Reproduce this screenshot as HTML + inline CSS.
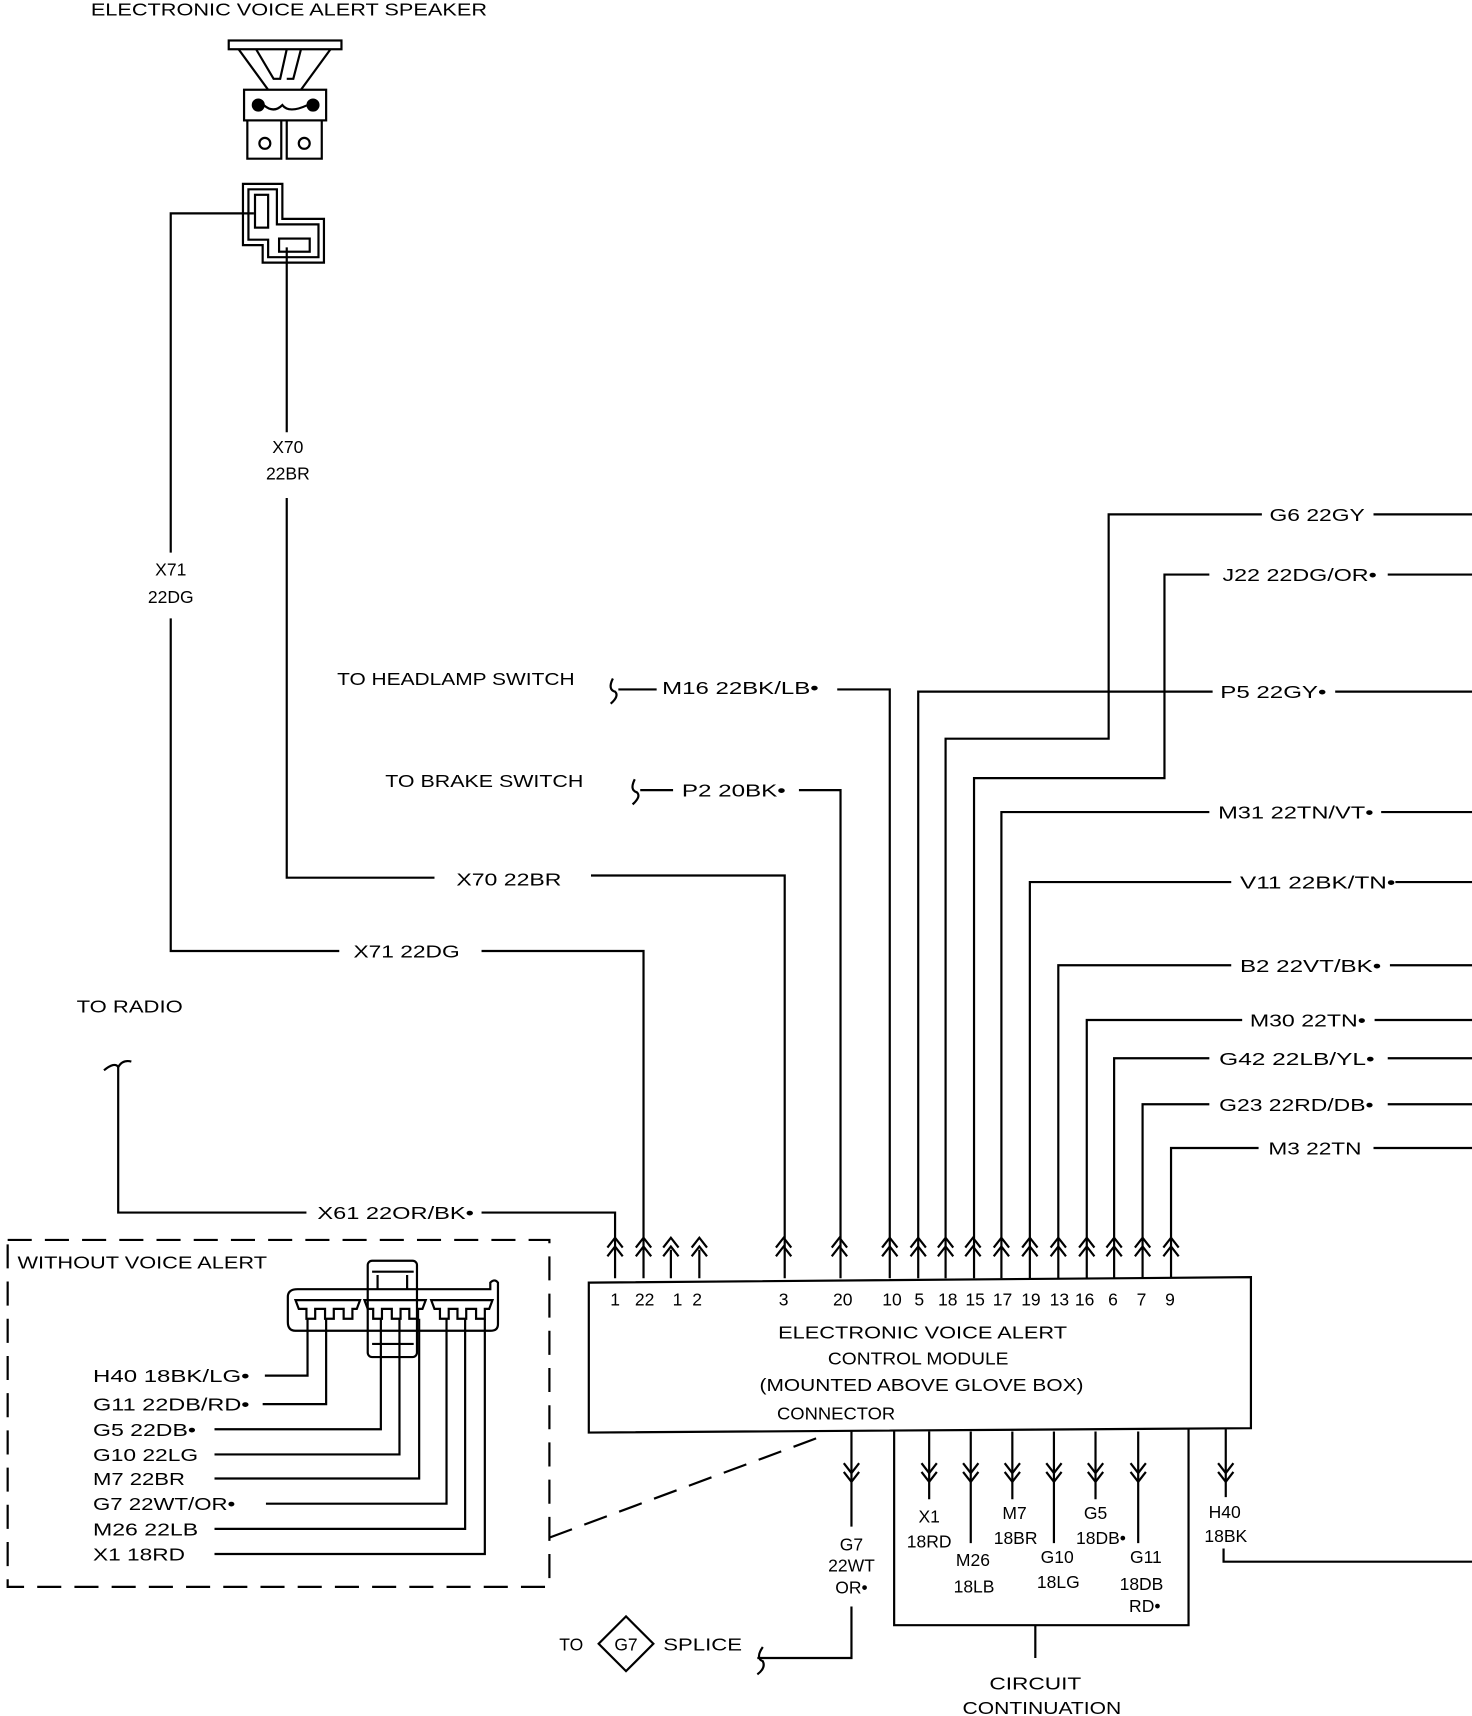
<!DOCTYPE html>
<html><head><meta charset="utf-8"><style>
html,body{margin:0;padding:0;background:#fff}
svg{display:block}
text{font-family:"Liberation Sans",sans-serif;font-size:16px;fill:#000}
</style></head><body>
<svg width="1472" height="1716" viewBox="0 0 1345 1568" preserveAspectRatio="none" xmlns="http://www.w3.org/2000/svg">
<defs>
<g id="up" fill="none" stroke="#000" stroke-width="2"><polyline points="-7,10 0,1 7,10"/><polyline points="-7,18 0,9 7,18"/></g>
<g id="dn" fill="none" stroke="#000" stroke-width="2"><polyline points="-7,-10 0,-1 7,-10"/><polyline points="-7,-18 0,-9 7,-18"/></g>
</defs>
<g fill="none" stroke="#000" stroke-width="2">
<!-- speaker -->
<rect x="209" y="37" width="103" height="8"/>
<path d="M218 45 L245 82 M302 45 L275 82 M234 45 L250 72 L256 72 L262 45 M275 45 L268 72 L262 72"/>
<rect x="223" y="82" width="75" height="28"/>
<circle cx="236" cy="96" r="5" fill="#000"/><circle cx="286" cy="96" r="5" fill="#000"/>
<path d="M241 96 Q250 104 258 96 Q264 104 281 96"/>
<path d="M226 110 L226 145 L257 145 L257 110 M262 110 L262 145 L294 145 L294 110"/>
<circle cx="242" cy="131" r="5"/><circle cx="278" cy="131" r="5"/>
<!-- connector L -->
<path d="M222 168 H258 V200 H296 V240 H240 V224 H222 Z"/>
<path d="M227 173 H253 V205 H291 V235 H245 V219 H227 Z"/>
<rect x="233" y="178" width="12" height="30"/>
<rect x="255" y="218" width="28" height="12"/>
<!-- X71 -->
<path d="M232 195 H156 V505 M156 565 V869 H310"/>
<path d="M440 869 H588 V1168"/>
<!-- X70 -->
<path d="M262 226 V395 M262 455 V802 H397"/>
<path d="M540 800 H717 V1168"/>
<!-- headlamp / brake -->
<path d="M565 630 H600 M765 630 H813 V1168"/>
<path d="M560 620 Q555 630 562 632 Q566 636 558 643"/>
<path d="M585 722 H615 M730 722 H768 V1168"/>
<path d="M580 712 Q575 722 582 724 Q586 728 578 735"/>
<!-- right wires -->
<path d="M1153 470 H1013 V675 H864 V1168 M1255 470 H1345"/>
<path d="M1105 525 H1064 V711 H890 V1168 M1268 525 H1345"/>
<path d="M1108 632 H839 V1168 M1220 632 H1345"/>
<path d="M1105 742 H915 V1168 M1262 742 H1345"/>
<path d="M1125 806 H941 V1168 M1275 806 H1345"/>
<path d="M1125 882 H967 V1168 M1270 882 H1345"/>
<path d="M1135 932 H993 V1168 M1256 932 H1345"/>
<path d="M1105 967 H1018 V1168 M1268 967 H1345"/>
<path d="M1105 1009 H1044 V1168 M1268 1009 H1345"/>
<path d="M1150 1049 H1070 V1168 M1255 1049 H1345"/>
<!-- radio -->
<path d="M108 975 V1108 H280 M440 1108 H562 V1168"/>
<path d="M95 978 Q105 970 108 975 Q112 968 120 970"/>
<path d="M613 1142 V1168 M639 1142 V1168"/>
<!-- module -->
<path d="M538 1172 L1143 1167 L1143 1305 L538 1309 Z"/>
<!-- below -->
<path d="M778 1308 V1395 M778 1468 V1515 H692"/>
<path d="M697 1505 Q690 1515 697 1518 Q700 1524 692 1530"/>
<path d="M817 1308 V1485 H1086 V1306 M946 1485 V1515"/>
<path d="M849 1308 V1370 M887 1308 V1410 M925 1308 V1370 M963 1308 V1410 M1001 1308 V1370 M1040 1308 V1410"/>
<path d="M1120 1306 V1368 M1118 1415 V1427 H1345"/>
<polygon points="572,1477 597,1502 572,1527 547,1502"/>
<!-- dashed box -->
<rect x="7" y="1133" width="495" height="317" stroke-dasharray="22,12"/>
<path d="M502 1405 L752 1312" stroke-dasharray="22,12"/>
<!-- small connector -->
<path d="M263 1185 Q263 1178 272 1178 H448 V1172 Q452 1168 455 1172 V1210 Q455 1216 448 1216 H270 Q263 1216 263 1208 Z"/>
<rect x="336" y="1152" width="45" height="88" rx="4"/>
<path d="M340 1162 H378 M340 1228 H378 M345 1165 V1178 M372 1165 V1178"/>
<path d="M270 1188 H329 L326 1196 H322 V1205 H314 V1196 H305 V1205 H297 V1196 H288 V1205 H280 V1196 H273 Z"/>
<path d="M333 1188 H389 L386 1196 H382 V1205 H374 V1196 H366 V1205 H358 V1196 H349 V1205 H341 V1196 H336 Z"/>
<path d="M394 1188 H450 L447 1196 H443 V1205 H435 V1196 H426 V1205 H418 V1196 H410 V1205 H402 V1196 H397 Z"/>
<path d="M242 1257 H281 V1205 M240 1283 H298 V1205 M196 1306 H348 V1205 M196 1329 H365 V1205 M196 1351 H383 V1205 M243 1374 H408 V1205 M196 1397 H425 V1205 M196 1420 H443 V1205"/>
</g>
<!-- arrows -->
<use href="#up" x="562" y="1130"/><use href="#up" x="588" y="1130"/><use href="#up" x="613" y="1130"/><use href="#up" x="639" y="1130"/>
<use href="#up" x="716" y="1130"/><use href="#up" x="767" y="1130"/><use href="#up" x="813" y="1130"/><use href="#up" x="839" y="1130"/>
<use href="#up" x="864" y="1130"/><use href="#up" x="889" y="1130"/><use href="#up" x="915" y="1130"/><use href="#up" x="941" y="1130"/>
<use href="#up" x="967" y="1130"/><use href="#up" x="993" y="1130"/><use href="#up" x="1018" y="1130"/><use href="#up" x="1044" y="1130"/><use href="#up" x="1070" y="1130"/>
<use href="#dn" x="778" y="1355"/><use href="#dn" x="849" y="1355"/><use href="#dn" x="887" y="1355"/><use href="#dn" x="925" y="1355"/>
<use href="#dn" x="963" y="1355"/><use href="#dn" x="1001" y="1355"/><use href="#dn" x="1040" y="1355"/><use href="#dn" x="1120" y="1355"/>
<!-- text -->
<text x="83" y="14" textLength="362" lengthAdjust="spacingAndGlyphs">ELECTRONIC VOICE ALERT SPEAKER</text>
<text x="263" y="414" text-anchor="middle">X70</text><text x="263" y="438" text-anchor="middle">22BR</text>
<text x="156" y="526" text-anchor="middle">X71</text><text x="156" y="551" text-anchor="middle">22DG</text>
<text x="308" y="626" textLength="217" lengthAdjust="spacingAndGlyphs">TO HEADLAMP SWITCH</text>
<text x="605" y="634" textLength="143" lengthAdjust="spacingAndGlyphs">M16 22BK/LB•</text>
<text x="352" y="719" textLength="181" lengthAdjust="spacingAndGlyphs">TO BRAKE SWITCH</text>
<text x="623" y="728" textLength="95" lengthAdjust="spacingAndGlyphs">P2 20BK•</text>
<text x="417" y="809" textLength="96" lengthAdjust="spacingAndGlyphs">X70 22BR</text>
<text x="323" y="875" textLength="97" lengthAdjust="spacingAndGlyphs">X71 22DG</text>
<text x="70" y="925" textLength="97" lengthAdjust="spacingAndGlyphs">TO RADIO</text>
<text x="290" y="1114" textLength="143" lengthAdjust="spacingAndGlyphs">X61 22OR/BK•</text>
<text x="1160" y="476" textLength="87" lengthAdjust="spacingAndGlyphs">G6 22GY</text>
<text x="1117" y="531" textLength="141" lengthAdjust="spacingAndGlyphs">J22 22DG/OR•</text>
<text x="1115" y="638" textLength="97" lengthAdjust="spacingAndGlyphs">P5 22GY•</text>
<text x="1113" y="748" textLength="142" lengthAdjust="spacingAndGlyphs">M31 22TN/VT•</text>
<text x="1133" y="812" textLength="142" lengthAdjust="spacingAndGlyphs">V11 22BK/TN•</text>
<text x="1133" y="888" textLength="129" lengthAdjust="spacingAndGlyphs">B2 22VT/BK•</text>
<text x="1142" y="938" textLength="106" lengthAdjust="spacingAndGlyphs">M30 22TN•</text>
<text x="1114" y="973" textLength="142" lengthAdjust="spacingAndGlyphs">G42 22LB/YL•</text>
<text x="1114" y="1015" textLength="141" lengthAdjust="spacingAndGlyphs">G23 22RD/DB•</text>
<text x="1159" y="1055" textLength="85" lengthAdjust="spacingAndGlyphs">M3 22TN</text>
<text x="16" y="1159" textLength="228" lengthAdjust="spacingAndGlyphs">WITHOUT VOICE ALERT</text>
<text x="85" y="1263" textLength="143" lengthAdjust="spacingAndGlyphs">H40 18BK/LG•</text>
<text x="85" y="1289" textLength="143" lengthAdjust="spacingAndGlyphs">G11 22DB/RD•</text>
<text x="85" y="1312" textLength="94" lengthAdjust="spacingAndGlyphs">G5 22DB•</text>
<text x="85" y="1335" textLength="96" lengthAdjust="spacingAndGlyphs">G10 22LG</text>
<text x="85" y="1357" textLength="84" lengthAdjust="spacingAndGlyphs">M7 22BR</text>
<text x="85" y="1380" textLength="130" lengthAdjust="spacingAndGlyphs">G7 22WT/OR•</text>
<text x="85" y="1403" textLength="96" lengthAdjust="spacingAndGlyphs">M26 22LB</text>
<text x="85" y="1426" textLength="84" lengthAdjust="spacingAndGlyphs">X1 18RD</text>
<g text-anchor="middle">
<text x="562" y="1193">1</text><text x="589" y="1193">22</text><text x="619" y="1193">1</text><text x="637" y="1193">2</text>
<text x="716" y="1193">3</text><text x="770" y="1193">20</text><text x="815" y="1193">10</text><text x="840" y="1193">5</text>
<text x="866" y="1193">18</text><text x="891" y="1193">15</text><text x="916" y="1193">17</text><text x="942" y="1193">19</text>
<text x="968" y="1193">13</text><text x="991" y="1193">16</text><text x="1017" y="1193">6</text><text x="1043" y="1193">7</text><text x="1069" y="1193">9</text>
<text x="843" y="1223" textLength="264" lengthAdjust="spacingAndGlyphs">ELECTRONIC VOICE ALERT</text>
<text x="839" y="1247" textLength="165" lengthAdjust="spacingAndGlyphs">CONTROL MODULE</text>
<text x="842" y="1271" textLength="296" lengthAdjust="spacingAndGlyphs">(MOUNTED ABOVE GLOVE BOX)</text>
<text x="778" y="1417">G7</text><text x="778" y="1436">22WT</text><text x="778" y="1456">OR•</text>
<text x="849" y="1391">X1</text><text x="849" y="1414">18RD</text>
<text x="889" y="1431">M26</text><text x="890" y="1455">18LB</text>
<text x="927" y="1388">M7</text><text x="928" y="1411">18BR</text>
<text x="966" y="1428">G10</text><text x="967" y="1451">18LG</text>
<text x="1001" y="1388">G5</text><text x="1006" y="1411">18DB•</text>
<text x="1047" y="1428">G11</text><text x="1043" y="1453">18DB</text><text x="1046" y="1473">RD•</text>
<text x="1119" y="1387">H40</text><text x="1120" y="1409">18BK</text>
<text x="572" y="1508" font-size="14">G7</text>
<text x="946" y="1544" textLength="84" lengthAdjust="spacingAndGlyphs">CIRCUIT</text>
<text x="952" y="1566" textLength="145" lengthAdjust="spacingAndGlyphs">CONTINUATION</text>
</g>
<text x="710" y="1297" textLength="108" lengthAdjust="spacingAndGlyphs">CONNECTOR</text>
<text x="511" y="1508">TO</text>
<text x="606" y="1508" textLength="72" lengthAdjust="spacingAndGlyphs">SPLICE</text>
</svg>
</body></html>
